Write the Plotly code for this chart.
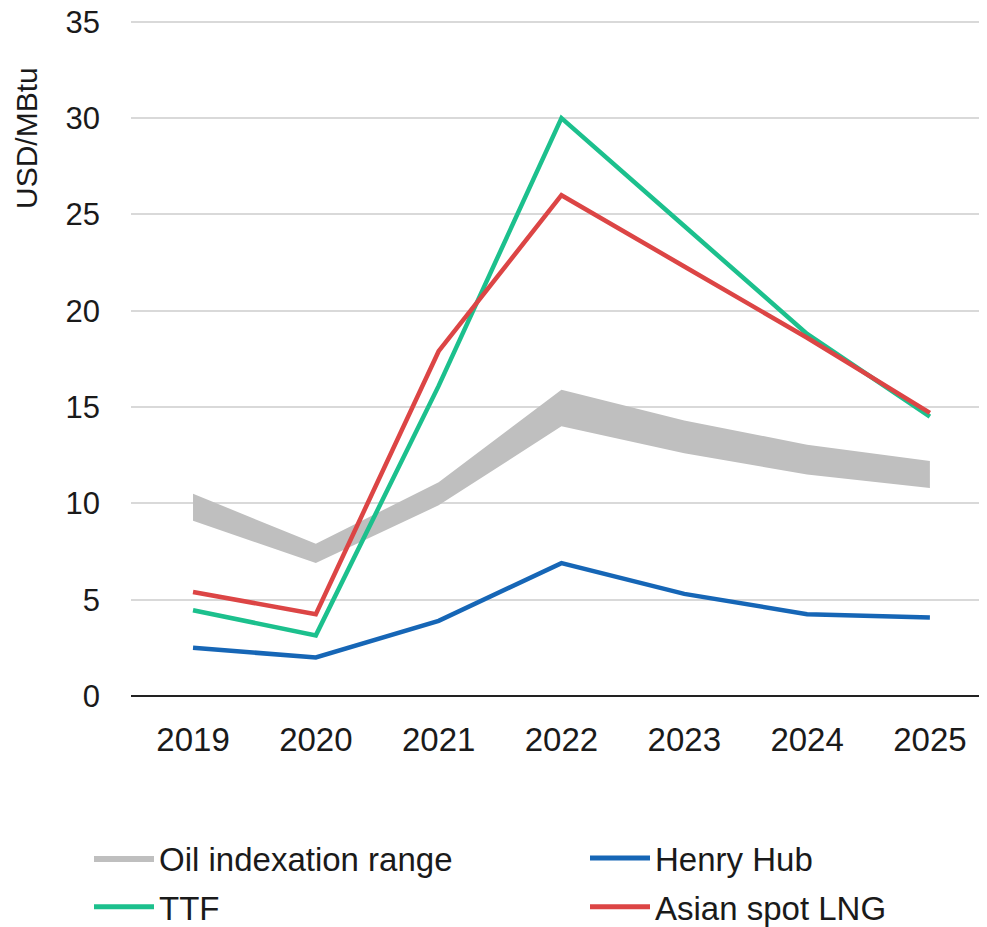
import plotly.graph_objects as go

years = [2019, 2020, 2021, 2022, 2023, 2024, 2025]
oil_low = [9.1, 6.9, 9.9, 14.0, 12.6, 11.5, 10.8]
oil_high = [10.5, 7.9, 11.1, 15.9, 14.3, 13.05, 12.2]
henry_hub = [2.5, 2.0, 3.9, 6.9, 5.3, 4.25, 4.07]
ttf = [4.45, 3.15, 16.1, 30.0, 24.4, 18.8, 14.5]
asian_lng = [5.4, 4.25, 17.9, 26.0, 22.3, 18.6, 14.7]
y_ticks = [0, 5, 10, 15, 20, 25, 30, 35]

FONT = "Liberation Sans, Arial, sans-serif"
GREY = "#bfbfbf"
BLUE = "#1666b6"
GREEN = "#1cc08d"
RED = "#dc4545"
LW = 4.5

fig = go.Figure()
fig.add_trace(go.Scatter(x=years, y=oil_low, mode="lines", line=dict(width=0, color=GREY),
                         showlegend=False, legendgroup="oil", hoverinfo="skip"))
fig.add_trace(go.Scatter(x=years, y=oil_high, mode="lines", line=dict(width=0, color=GREY),
                         fill="tonexty", fillcolor=GREY, name="Oil indexation range",
                         legendgroup="oil", legend="legend"))
fig.add_trace(go.Scatter(x=years, y=henry_hub, mode="lines", line=dict(width=LW, color=BLUE),
                         name="Henry Hub", legendgroup="hh", legend="legend2"))
fig.add_trace(go.Scatter(x=years, y=ttf, mode="lines", line=dict(width=LW, color=GREEN),
                         name="TTF", legendgroup="ttf", legend="legend"))
fig.add_trace(go.Scatter(x=years, y=asian_lng, mode="lines", line=dict(width=LW, color=RED),
                         name="Asian spot LNG", legendgroup="asia", legend="legend2"))

legend_common = dict(orientation="v", xanchor="left", yanchor="top",
                     xref="container", yref="container", itemwidth=60,
                     font=dict(size=33, family=FONT, color="#1a1a1a"),
                     tracegroupgap=3, itemsizing="constant", bgcolor="rgba(0,0,0,0)")

fig.update_layout(
    width=987, height=927,
    margin=dict(l=123, r=8, t=10, b=239, autoexpand=False),
    paper_bgcolor="white", plot_bgcolor="white",
    font=dict(family=FONT, size=30, color="#1a1a1a"),
    xaxis=dict(range=[2018.495, 2025.465], tickvals=years, ticktext=[str(y) for y in years],
               showgrid=False, zeroline=False, showline=False, ticks="",
               ticklabelstandoff=21, tickfont=dict(size=33)),
    yaxis=dict(range=[0, 35.2], tickvals=y_ticks, showgrid=True, gridcolor="#d9d9d9",
               gridwidth=2, zeroline=True, zerolinecolor="#222222", zerolinewidth=2,
               ticks="", ticklabelstandoff=30, tickfont=dict(size=31),
               ticklabeloverflow="allow"),
    legend=dict(x=81 / 987, y=1 - 822 / 927, **legend_common),
    legend2=dict(x=577 / 987, y=1 - 822 / 927, **legend_common),
    annotations=[dict(text="USD/MBtu", textangle=-90, xref="paper", yref="paper",
                      x=(18 - 123) / 856, y=(688 - 130) / 678, showarrow=False,
                      font=dict(size=30, family=FONT), xanchor="center", yanchor="middle")],
)

fig.write_html("out.html")
